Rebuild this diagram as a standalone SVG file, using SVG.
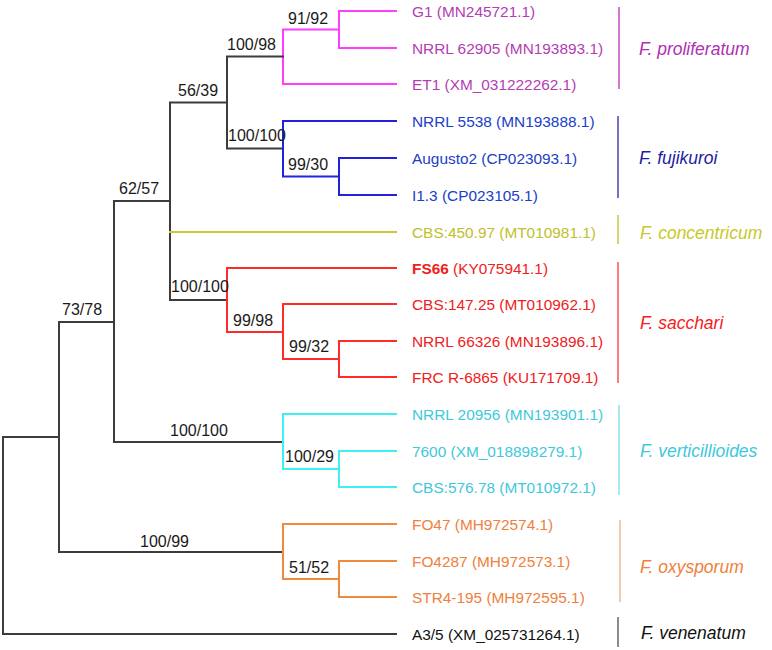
<svg xmlns="http://www.w3.org/2000/svg" width="772" height="650" viewBox="0 0 772 650">
<style>
.br{fill:none;stroke-width:2;stroke-linecap:square;stroke-linejoin:miter}
.k{stroke:#3c3c3c}.mg{stroke:#ff3cff}.bl{stroke:#2222dd}.yl{stroke:#c8c83a}.rd{stroke:#ff2a2a}.cy{stroke:#3ef0f0}.or{stroke:#f08a3c}
text{font-family:"Liberation Sans",Arial,sans-serif}
.bs{font-size:16px;fill:#1a1a1a}
.lf{font-size:15.4px}
.sp{font-size:17.5px;font-style:italic}
.bar{stroke-width:1.5;fill:none}
</style>
<rect width="772" height="650" fill="#ffffff"/>
<g id="connectors">
<path class="br mg" d="M396 11H339V48H396M339 29.5H283V84H396"/>
<path class="br k" d="M283 56.5H227V148.5H283"/>
<path class="br bl" d="M396 121H283V176.5H339V158H396M339 176.5V195H396"/>
<path class="br k" d="M227 102.5H170V300H227"/>
<path class="br yl" d="M170 232H396"/>
<path class="br rd" d="M396 268H227V332H283M396 304H283V359H339V341H396M339 359V377H396"/>
<path class="br k" d="M170 201H114V442H283M114 322H59V552H283M59 437H3V634H396"/>
<path class="br cy" d="M396 414H283V469H339V451H396M339 469V487H396"/>
<path class="br or" d="M396 524H283V579H339V561H396M339 579V597H396"/>
</g>
<g id="support">
<text class="bs" x="288" y="24">91/92</text>
<text class="bs" x="227" y="50">100/98</text>
<text class="bs" x="178" y="96">56/39</text>
<text class="bs" x="228" y="141">100/100</text>
<text class="bs" x="288" y="170">99/30</text>
<text class="bs" x="119" y="194">62/57</text>
<text class="bs" x="171" y="292">100/100</text>
<text class="bs" x="233" y="326">99/98</text>
<text class="bs" x="289" y="352">99/32</text>
<text class="bs" x="62" y="315">73/78</text>
<text class="bs" x="170" y="436">100/100</text>
<text class="bs" x="285" y="462">100/29</text>
<text class="bs" x="140" y="547">100/99</text>
<text class="bs" x="289" y="573">51/52</text>
</g>
<g id="leaves">
<g id="leaf-G1"><text class="lf" x="412" y="17" fill="#b43cb4">G1 (MN245721.1)</text></g>
<g id="leaf-NRRL62905"><text class="lf" x="412" y="54" fill="#b43cb4">NRRL 62905 (MN193893.1)</text></g>
<g id="leaf-ET1"><text class="lf" x="412" y="90" fill="#b43cb4">ET1 (XM_031222262.1)</text></g>
<g id="leaf-NRRL5538"><text class="lf" x="412" y="127" fill="#2040c8">NRRL 5538 (MN193888.1)</text></g>
<g id="leaf-Augusto2"><text class="lf" x="412" y="164" fill="#2040c8">Augusto2 (CP023093.1)</text></g>
<g id="leaf-I13"><text class="lf" x="412" y="201" fill="#2040c8">I1.3 (CP023105.1)</text></g>
<g id="leaf-CBS45097"><text class="lf" x="412" y="238" fill="#c0c02a">CBS:450.97 (MT010981.1)</text></g>
<g id="leaf-FS66"><text class="lf" x="412" y="274" fill="#f02020"><tspan font-weight="bold">FS66</tspan> (KY075941.1)</text></g>
<g id="leaf-CBS14725"><text class="lf" x="412" y="310" fill="#f02020">CBS:147.25 (MT010962.1)</text></g>
<g id="leaf-NRRL66326"><text class="lf" x="412" y="347" fill="#f02020">NRRL 66326 (MN193896.1)</text></g>
<g id="leaf-FRCR6865"><text class="lf" x="412" y="383" fill="#f02020">FRC R-6865 (KU171709.1)</text></g>
<g id="leaf-NRRL20956"><text class="lf" x="412" y="420" fill="#40c8dc">NRRL 20956 (MN193901.1)</text></g>
<g id="leaf-7600"><text class="lf" x="412" y="457" fill="#40c8dc">7600 (XM_018898279.1)</text></g>
<g id="leaf-CBS57678"><text class="lf" x="412" y="493" fill="#40c8dc">CBS:576.78 (MT010972.1)</text></g>
<g id="leaf-FO47"><text class="lf" x="412" y="530" fill="#f0803c">FO47 (MH972574.1)</text></g>
<g id="leaf-FO4287"><text class="lf" x="412" y="567" fill="#f0803c">FO4287 (MH972573.1)</text></g>
<g id="leaf-STR4195"><text class="lf" x="412" y="603" fill="#f0803c">STR4-195 (MH972595.1)</text></g>
<g id="leaf-A35"><text class="lf" x="412" y="640" fill="#111111">A3/5 (XM_025731264.1)</text></g>
</g>
<g id="species">
<g id="sp-proliferatum"><line class="bar" x1="619" y1="7" x2="619" y2="89" stroke="#c04cc0"/><text class="sp" x="639" y="55" fill="#b030b0">F. proliferatum</text></g>
<g id="sp-fujikuroi"><line class="bar" x1="618" y1="116" x2="618" y2="198" stroke="#4444a8"/><text class="sp" x="639" y="164" fill="#1c1ca0">F. fujikuroi</text></g>
<g id="sp-concentricum"><line class="bar" x1="618" y1="215" x2="618" y2="244" stroke="#c8c84a"/><text class="sp" x="640" y="239" fill="#c8c828">F. concentricum</text></g>
<g id="sp-sacchari"><line class="bar" x1="618" y1="262" x2="618" y2="383" stroke="#ff5050"/><text class="sp" x="640" y="329" fill="#f82020">F. sacchari</text></g>
<g id="sp-verticillioides"><line class="bar" x1="619" y1="405" x2="619" y2="495" stroke="#88e0e8"/><text class="sp" x="640" y="457" fill="#40c8dc">F. verticillioides</text></g>
<g id="sp-oxysporum"><line class="bar" x1="620" y1="520" x2="620" y2="602" stroke="#e8bc98"/><text class="sp" x="640" y="573" fill="#f0803c">F. oxysporum</text></g>
<g id="sp-venenatum"><line x1="618" y1="617" x2="618" y2="647" stroke="#8c8c8c" stroke-width="2"/><text class="sp" x="641" y="639" fill="#111111">F. venenatum</text></g>
</g>
</svg>
